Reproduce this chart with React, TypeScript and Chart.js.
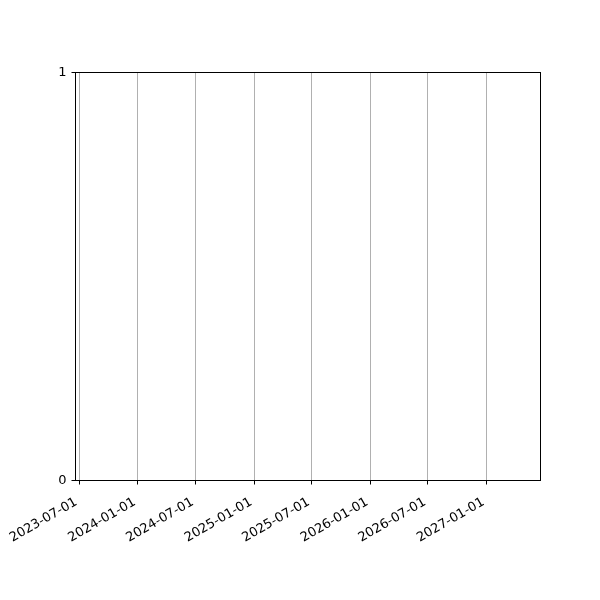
import { useEffect, useRef } from "react";
import { Chart, registerables } from "chart.js";

Chart.register(...registerables);

// axis limits and tick positions
const xMinDate = "2023-06-19";
const xMaxDate = "2027-06-20";
const xTickDates = [
  "2023-07-01",
  "2024-01-01",
  "2024-07-01",
  "2025-01-01",
  "2025-07-01",
  "2026-01-01",
  "2026-07-01",
  "2027-01-01",
];
const yTicks = [0, 1];
// the plot holds no data points
const seriesPoints: { x: number; y: number }[] = [];

const font = { family: "DejaVu Sans", size: 13 };

// matplotlib-style closed frame around the plot area
const framePlugin = {
  id: "frame",
  afterDraw(chart: Chart) {
    const { ctx, chartArea } = chart;
    ctx.save();
    ctx.strokeStyle = "#000";
    ctx.lineWidth = 1;
    ctx.strokeRect(
      chartArea.left,
      chartArea.top,
      chartArea.right - chartArea.left,
      chartArea.bottom - chartArea.top,
    );
    ctx.restore();
  },
};

export default function App() {
  const canvasRef = useRef<HTMLCanvasElement | null>(null);

  useEffect(() => {
    document.body.style.margin = "0";
    if (!canvasRef.current) return;

    const chart = new Chart(canvasRef.current, {
      type: "scatter",
      data: {
        datasets: [{ data: seriesPoints, pointRadius: 0 }],
      },
      options: {
        responsive: false,
        animation: false,
        devicePixelRatio: 1,
        layout: {
          padding: { left: 50.5, right: 59.5, top: 72.5, bottom: 49.5 },
        },
        plugins: {
          legend: { display: false },
          tooltip: { enabled: false },
        },
        scales: {
          x: {
            type: "linear",
            min: Date.parse(xMinDate),
            max: Date.parse(xMaxDate),
            afterBuildTicks: (scale: any) => {
              scale.ticks = xTickDates.map((d) => ({ value: Date.parse(d) }));
            },
            afterFit: (scale: any) => {
              scale.height = 70;
            },
            grid: {
              color: "#b0b0b0",
              lineWidth: 1,
              tickColor: "#000",
              tickLength: 4,
            },
            border: { color: "#000", width: 1 },
            ticks: {
              autoSkip: false,
              minRotation: 30,
              maxRotation: 30,
              padding: 10,
              labelOffset: -3,
              color: "#000",
              font,
              callback: (value: any) =>
                new Date(Number(value)).toISOString().slice(0, 10),
            },
          },
          y: {
            min: 0,
            max: 1,
            afterBuildTicks: (scale: any) => {
              scale.ticks = yTicks.map((v) => ({ value: v }));
            },
            afterFit: (scale: any) => {
              scale.width = 25;
            },
            grid: {
              drawOnChartArea: false,
              tickColor: "#000",
              tickLength: 4,
            },
            border: { color: "#000", width: 1 },
            ticks: {
              padding: 5,
              color: "#000",
              font,
            },
          },
        },
      },
      plugins: [framePlugin],
    });

    return () => chart.destroy();
  }, []);

  return (
    <div style={{ width: 600, height: 600, background: "#fff" }}>
      <canvas ref={canvasRef} width={600} height={600} />
    </div>
  );
}
